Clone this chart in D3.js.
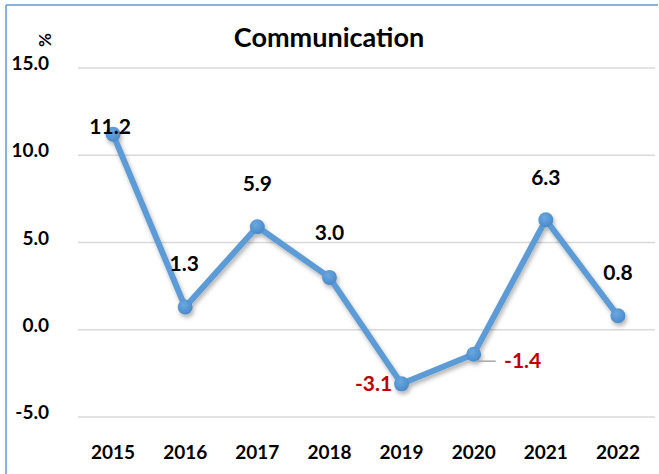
<!DOCTYPE html>
<html>
<head>
<meta charset="utf-8">
<script src="https://cdn.jsdelivr.net/npm/d3@7"></script>
<style>
  html, body { margin: 0; padding: 0; background: #fff; }
  svg { display: block; }
  text { font-family: Lato, "Open Sans", sans-serif; font-weight: 700; }
</style>
</head>
<body>
<svg id="chart" width="659" height="474"></svg>
<script>
// ---- data ----
const categories = ["2015", "2016", "2017", "2018", "2019", "2020", "2021", "2022"];
const values = [11.2, 1.3, 5.9, 3.0, -3.1, -1.4, 6.3, 0.8];
const yTicks = [-5, 0, 5, 10, 15];
const title = "Communication";
const unitLabel = "%";
// label placement relative to its point (dx, dy of baseline)
const labelOffsets = [[-3, 0], [-1, -36], [0, -36], [0, -37], [-28, 7], [49, 14], [0, -35], [0, -36]];

// ---- layout ----
const W = 659, H = 474;
const svg = d3.select("#chart");
const fmt = v => v.toFixed(1);

const x = d3.scaleBand().domain(categories).range([77, 654]);
const y = d3.scaleLinear().domain([-5, 15]).range([417, 68]);
const cx = d => x(d) + x.bandwidth() / 2;

const defs = svg.append("defs");
const f = defs.append("filter").attr("id", "shadow").attr("x", "-20%").attr("y", "-20%").attr("width", "140%").attr("height", "140%");
f.append("feDropShadow").attr("dx", 1.5).attr("dy", 3).attr("stdDeviation", 2).attr("flood-color", "#000").attr("flood-opacity", 0.3);
const g = defs.append("radialGradient").attr("id", "mk").attr("cx", "40%").attr("cy", "35%").attr("r", "65%");
g.append("stop").attr("offset", "0%").attr("stop-color", "#6aa8e0");
g.append("stop").attr("offset", "100%").attr("stop-color", "#4a8acb");

// border (top & left)
svg.append("line").attr("x1", 6).attr("y1", 5).attr("x2", 658).attr("y2", 5)
  .attr("stroke", "#5b9bd5").attr("stroke-width", 1.5);
svg.append("line").attr("x1", 6).attr("y1", 5).attr("x2", 6).attr("y2", H)
  .attr("stroke", "#5b9bd5").attr("stroke-width", 1.5);

// gridlines
svg.append("g").selectAll("line").data(yTicks).join("line")
  .attr("x1", 78).attr("x2", 655)
  .attr("y1", d => y(d)).attr("y2", d => y(d))
  .attr("stroke", "#d9d9d9").attr("stroke-width", 1.5);

// y tick labels
svg.append("g").selectAll("text").data(yTicks).join("text")
  .attr("x", 49).attr("y", d => y(d) + 2)
  .attr("text-anchor", "end")
  .attr("font-size", 19).attr("fill", "#000")
  .text(d => fmt(d));

// x labels
svg.append("g").selectAll("text").data(categories).join("text")
  .attr("x", d => cx(d)).attr("y", 459)
  .attr("text-anchor", "middle")
  .attr("font-size", 19).attr("fill", "#000")
  .text(d => d);

// title
svg.append("text").attr("x", 329).attr("y", 47).attr("text-anchor", "middle")
  .attr("font-size", 27).attr("fill", "#000").text(title);

// unit
svg.append("text").attr("transform", "translate(51,40) rotate(-90)")
  .attr("text-anchor", "middle").attr("font-size", 17).attr("fill", "#000").text(unitLabel);

const pts = categories.map((c, i) => ({ c, v: values[i], i }));

// line + markers
const series = svg.append("g").attr("filter", "url(#shadow)");
series.append("path").datum(pts)
  .attr("d", d3.line().x(d => cx(d.c)).y(d => y(d.v)))
  .attr("fill", "none").attr("stroke", "#5b9bd5").attr("stroke-width", 6)
  .attr("stroke-linejoin", "round").attr("stroke-linecap", "round");
series.selectAll("circle").data(pts).join("circle")
  .attr("cx", d => cx(d.c)).attr("cy", d => y(d.v)).attr("r", 7.5)
  .attr("fill", "url(#mk)");

// leader line for the -1.4 label
const li = 5;
svg.append("line")
  .attr("x1", cx(categories[li]) + 3).attr("y1", y(values[li]) + 7)
  .attr("x2", cx(categories[li]) + 22).attr("y2", y(values[li]) + 7)
  .attr("stroke", "#a6a6a6").attr("stroke-width", 1.5);

// data labels
svg.append("g").selectAll("text").data(pts).join("text")
  .attr("x", d => cx(d.c) + labelOffsets[d.i][0])
  .attr("y", d => y(d.v) + labelOffsets[d.i][1])
  .attr("text-anchor", "middle")
  .attr("font-size", 21)
  .attr("fill", d => d.v < 0 ? "#c00000" : "#000")
  .text(d => fmt(d.v));
</script>
</body>
</html>
